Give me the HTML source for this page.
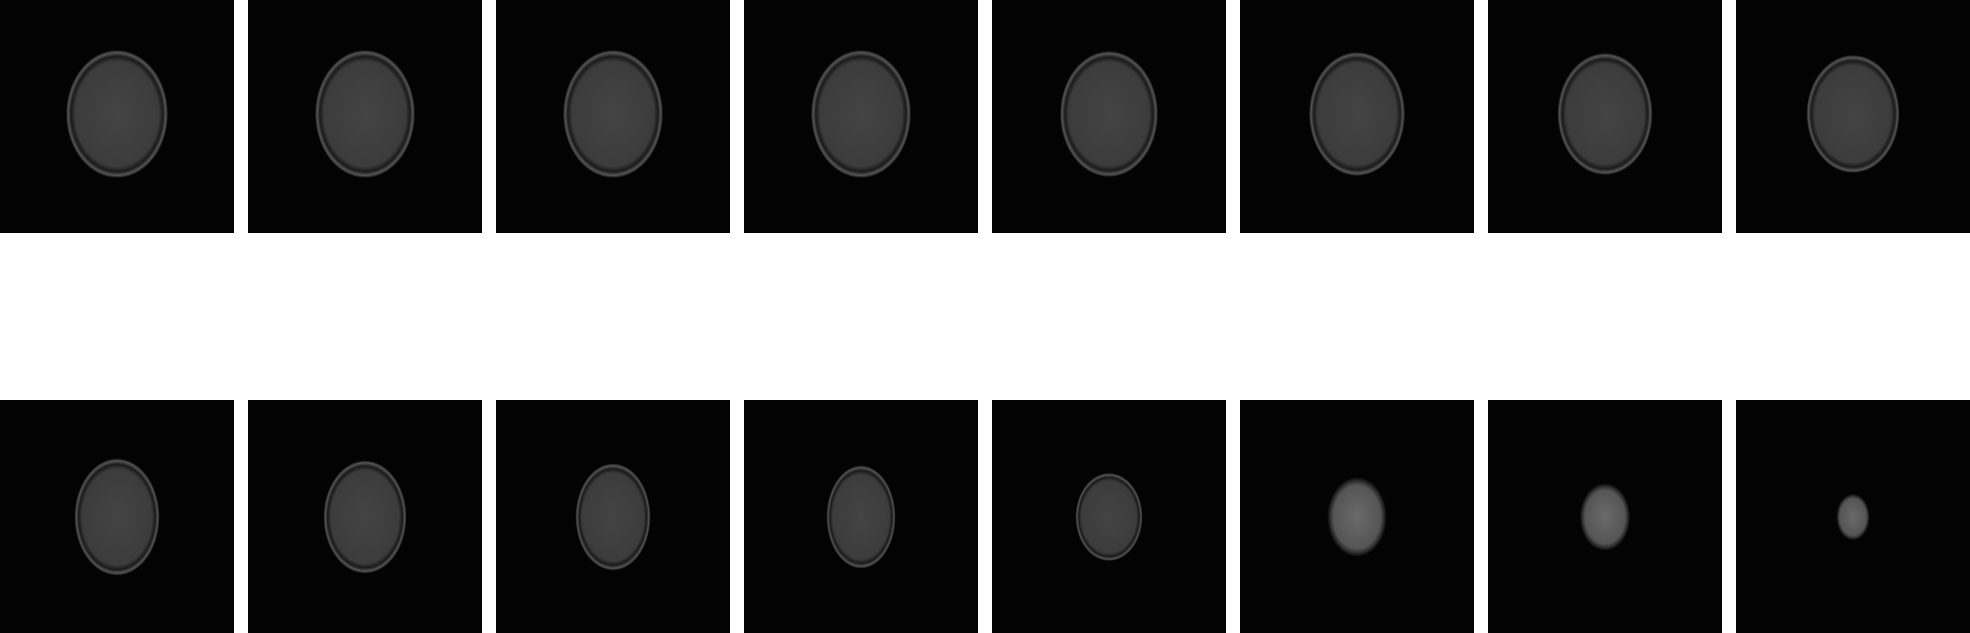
<!DOCTYPE html>
<html><head><meta charset="utf-8"><style>
html,body{margin:0;padding:0;background:#fff;width:1970px;height:633px;overflow:hidden}
</style></head><body>
<svg width="1970" height="633">
<defs>
<radialGradient id="br" cx="50%" cy="50%" r="50%">
<stop offset="0" stop-color="#444"/><stop offset="0.82" stop-color="#3c3c3c"/><stop offset="0.9" stop-color="#1a1a1a"/><stop offset="0.96" stop-color="#555"/><stop offset="1" stop-color="#080808"/>
</radialGradient>
<radialGradient id="br2" cx="50%" cy="50%" r="50%">
<stop offset="0" stop-color="#6a6a6a"/><stop offset="0.8" stop-color="#555"/><stop offset="0.92" stop-color="#2a2a2a"/><stop offset="1" stop-color="#080808"/>
</radialGradient>
</defs>
<g id="g"></g>
</svg>
<script>
const cols=[0,248,496,744,992,1240,1488,1736];
const topW=[102,100,100,100,98,96,95,93];
const topH=[128,128,128,128,126,124,122,118];
const botW=[85,83,75,69,67,59,50,33];
const botH=[117,113,107,103,88,79,67,46];
const g=document.getElementById('g');
const NS='http://www.w3.org/2000/svg';
function panel(x,y,h,w,eh,cy,grad){
 const r=document.createElementNS(NS,'rect');
 r.setAttribute('x',x);r.setAttribute('y',y);r.setAttribute('width',234);r.setAttribute('height',h);r.setAttribute('fill','#030303');
 
 
 g.appendChild(r);
 const e=document.createElementNS(NS,'ellipse');
 e.setAttribute('cx',x+117);e.setAttribute('cy',cy);e.setAttribute('rx',w/2);e.setAttribute('ry',eh/2);e.setAttribute('fill','url(#'+grad+')');
 
 
 g.appendChild(e);
}
cols.forEach((x,i)=>panel(x,0,233,topW[i],topH[i],114,'br'));
cols.forEach((x,i)=>panel(x,400,233,botW[i],botH[i],517,i>4?'br2':'br'));
</script>
</body></html>
